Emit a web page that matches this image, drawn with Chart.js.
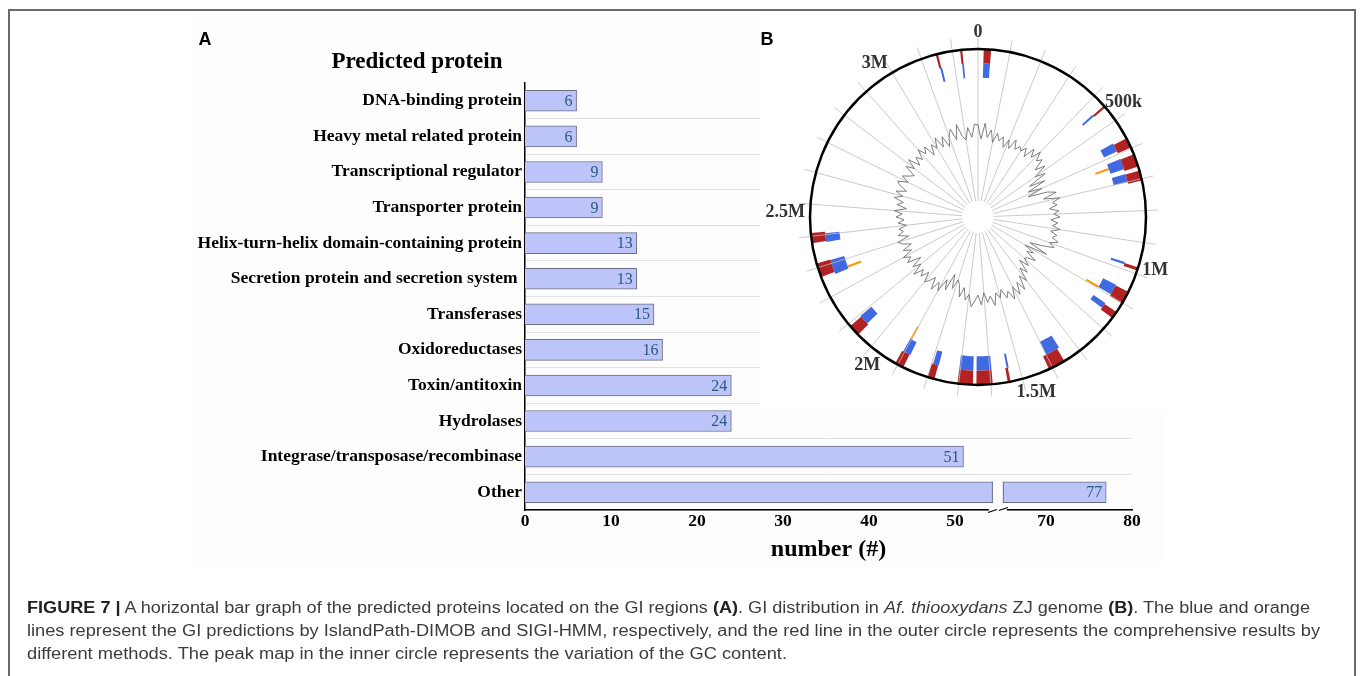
<!DOCTYPE html>
<html><head><meta charset="utf-8">
<script src="https://cdn.jsdelivr.net/npm/chart.js@4.4.1/dist/chart.umd.min.js"></script>
<style>
html,body{margin:0;padding:0;background:#fff;width:1360px;height:676px;overflow:hidden;position:relative;}
#frame{position:absolute;left:8px;top:9px;width:1348px;height:720px;border:2px solid #6a6a6a;box-sizing:border-box;}
#bgA{position:absolute;left:192px;top:20px;width:973px;height:542px;background:#fdfdfd;}
#cA{position:absolute;left:0;top:0;}
#bgB{position:absolute;left:760px;top:20px;width:405px;height:390px;background:#fff;}
#cRing{position:absolute;left:810px;top:49px;}
#cGC{position:absolute;left:758px;top:-3px;}
.panel{position:absolute;font:bold 18px "Liberation Sans",Arial,sans-serif;color:#000;transform:translate(-50%,-50%);}
#titleA{position:absolute;left:417px;top:61px;transform:translate(-50%,-50%);font:bold 23px "Liberation Serif";white-space:nowrap;color:#000;}
.cap{position:absolute;left:27px;font:16px "Liberation Sans",Arial,sans-serif;color:#3c3c3c;white-space:nowrap;transform-origin:0 50%;line-height:20px;}
.cap b{color:#222;}
</style></head>
<body>
<div id="frame"></div>
<div id="bgA"></div>
<canvas id="cA" width="1360" height="676"></canvas>
<div id="bgB"></div>
<canvas id="cRing" width="336" height="336"></canvas>
<canvas id="cGC" width="440" height="440"></canvas>
<div class="panel" style="left:205px;top:39px;">A</div>
<div class="panel" style="left:767px;top:39px;">B</div>
<div id="titleA">Predicted protein</div>
<div class="cap" id="cap1" style="top:598px;"><b>FIGURE 7 |</b> A horizontal bar graph of the predicted proteins located on the GI regions <b>(A)</b>. GI distribution in <i>Af. thiooxydans</i> ZJ genome <b>(B)</b>. The blue and orange</div>
<div class="cap" id="cap2" style="top:621px;">lines represent the GI predictions by IslandPath-DIMOB and SIGI-HMM, respectively, and the red line in the outer circle represents the comprehensive results by</div>
<div class="cap" id="cap3" style="top:644px;">different methods. The peak map in the inner circle represents the variation of the GC content.</div>
<script>
// ---------- Panel A data ----------
const categories = ['DNA-binding protein','Heavy metal related protein','Transcriptional regulator','Transporter protein','Helix-turn-helix domain-containing protein','Secretion protein and secretion system ','Transferases','Oxidoreductases','Toxin/antitoxin','Hydrolases','Integrase/transposase/recombinase','Other'];
const counts = [6,6,9,9,13,13,15,16,24,24,51,77];
const xTickValues = [0,10,20,30,40,50,70,80];
const axisBreak = [55, 64.4];

// ---------- Panel B data ----------
const genomeLength = 3280; // kb
const gcWindow = 20;       // kb
const gcContent = [
59.2,57.8,59.4,58.0,58.8,57.6,58.6,57.9,58.4,57.4,
58.3,57.5,58.6,57.7,58.2,57.9,58.4,57.6,58.8,58.0,
59.0,58.1,58.6,57.4,58.4,57.0,58.0,56.0,57.6,55.6,
57.0,55.4,57.4,58.2,56.8,58.4,57.6,58.0,57.2,58.1,
57.6,58.2,57.3,58.0,57.5,58.3,57.4,58.1,57.7,58.4,
57.6,58.2,57.0,55.8,57.8,55.5,56.6,56.0,57.2,56.4,
56.2,57.0,56.0,57.4,56.6,58.0,57.2,58.6,57.6,58.8,
57.8,59.0,58.0,58.6,57.6,58.4,57.8,59.0,58.0,58.6,
57.6,58.8,57.8,58.4,59.0,57.8,58.4,57.2,58.2,57.0,
56.6,57.6,56.2,58.0,57.0,58.4,57.6,58.6,57.4,58.0,
58.4,57.4,58.2,57.6,58.6,57.4,58.2,57.0,58.4,57.8,
58.5,57.4,58.2,57.2,58.0,58.4,57.2,58.2,57.6,58.0,
57.2,58.0,57.4,58.2,57.6,58.4,57.2,58.2,57.6,58.6,
57.8,58.6,57.6,58.4,58.8,57.8,58.6,58.0,57.6,58.8,
58.0,59.0,57.8,58.6,58.0,59.0,58.2,58.8,57.6,58.6,
58.0,59.0,57.8,58.8,57.6,58.6,59.2,58.0,59.5,58.2,
57.8,59.0,58.0,59.3];
const ringTickValues = [0,500,1000,1500,2000,2500,3000];
const ringTickLabels = ['0','500k','1M','1.5M','2M','2.5M','3M'];
const islandsCombined = [[18,41],[442,449],[565,597],[620,661],[674,706],[979,989],[1061,1102],[1134,1157],[1358,1412],[1538,1547],[1594,1645],[1656,1704],[1777,1799],[1881,1909],[2055,2091],[2269,2314],[2378,2410],[3147,3154],[3224,3231]];
const islandsDimob = [[18,41],[440,447],[560,590],[618,655],[672,700],[975,983],[1058,1095],[1130,1150],[1350,1400],[1535,1542],[1594,1645],[1656,1704],[1775,1795],[1878,1905],[2060,2095],[2262,2312],[2375,2405],[3150,3157],[3226,3232]];
const islandsSigi = [[632,640],[1090,1098],[1898,1905],[2266,2274]];

// ---------- Panel A chart ----------
const gapSize = axisBreak[1] - axisBreak[0];
const toDisplay = v => v <= axisBreak[0] ? v : v - gapSize;
const FONT = 'Liberation Serif';
const BG_A = '#fdfdfd';

const valueLabels = {
  id: 'valueLabels',
  afterDatasetsDraw(chart) {
    const ctx = chart.ctx, meta = chart.getDatasetMeta(0), xs = chart.scales.x;
    ctx.save();
    const bx = xs.getPixelForValue(axisBreak[0]);
    meta.data.forEach((bar, i) => {
      if (counts[i] > axisBreak[1]) {
        const h = bar.height;
        ctx.fillStyle = BG_A;
        ctx.fillRect(bx - 5, bar.y - h / 2 - 1, 10, h + 2);
        ctx.strokeStyle = '#6E6E86'; ctx.lineWidth = 1;
        ctx.beginPath();
        ctx.moveTo(bx - 5.5, bar.y - h / 2); ctx.lineTo(bx - 5.5, bar.y + h / 2);
        ctx.moveTo(bx + 5.5, bar.y - h / 2); ctx.lineTo(bx + 5.5, bar.y + h / 2);
        ctx.stroke();
      }
    });
    ctx.font = '16px "' + FONT + '"';
    ctx.fillStyle = '#2A5A7C';
    ctx.textAlign = 'right';
    ctx.textBaseline = 'middle';
    meta.data.forEach((bar, i) => ctx.fillText(String(counts[i]), bar.x - 4, bar.y + 1));
    ctx.restore();
  },
  afterDraw(chart) {
    const ctx = chart.ctx, xs = chart.scales.x;
    const bx = xs.getPixelForValue(axisBreak[0]);
    const y = chart.chartArea.bottom;
    ctx.save();
    ctx.fillStyle = BG_A;
    ctx.fillRect(bx - 9, y - 3, 18, 6);
    ctx.strokeStyle = '#000'; ctx.lineWidth = 1.2;
    ctx.beginPath();
    ctx.moveTo(bx - 10, y + 2.5); ctx.lineTo(bx - 1, y - 0.5);
    ctx.moveTo(bx + 1, y + 0.5); ctx.lineTo(bx + 10, y - 2.5);
    ctx.stroke();
    ctx.restore();
  }
};

new Chart(document.getElementById('cA'), {
  type: 'bar',
  data: {
    labels: categories,
    datasets: [{
      data: counts.map(toDisplay),
      backgroundColor: '#BCC4F9',
      borderColor: '#6E6E86',
      borderWidth: 1,
      barThickness: 21
    }]
  },
  options: {
    indexAxis: 'y',
    responsive: false,
    animation: false,
    events: [],
    layout: { padding: { left: 185, top: 83, right: 228, bottom: 108 } },
    plugins: { legend: { display: false }, tooltip: { enabled: false } },
    scales: {
      x: {
        type: 'linear', min: 0, max: 70.6,
        afterBuildTicks: s => { s.ticks = xTickValues.map(v => ({ value: toDisplay(v) })); },
        afterFit: s => { s.height = 58; },
        grid: { display: false, drawTicks: false },
        border: { display: true, color: '#000', width: 1.5 },
        ticks: { padding: 1, color: '#000', autoSkip: false, maxRotation: 0,
          font: { family: FONT, size: 17.5, weight: 'bold' },
          callback: (v, i) => String(xTickValues[i]) },
        title: { display: true, text: 'number (#)', color: '#000',
          font: { family: FONT, size: 24, weight: 'bold' }, padding: { top: 0, bottom: 4 } }
      },
      y: {
        afterFit: s => { s.width = 340; },
        grid: { color: c => (c.index === 0 || c.index >= categories.length) ? 'rgba(0,0,0,0)' : '#e2e2e2', drawTicks: false, lineWidth: 1 },
        border: { display: true, color: '#000', width: 1.5 },
        ticks: { padding: 3, color: '#000', autoSkip: false, font: { family: FONT, size: 17.5, weight: 'bold' } }
      }
    }
  },
  plugins: [valueLabels]
});

// ---------- Panel B: GI rings (doughnut) ----------
function ringData(islands, color) {
  const data = [], colors = [];
  let pos = 0;
  islands.slice().sort((a, b) => a[0] - b[0]).forEach(([s, e]) => {
    data.push(s - pos); colors.push('rgba(0,0,0,0)');
    data.push(e - s); colors.push(color);
    pos = e;
  });
  data.push(genomeLength - pos); colors.push('rgba(0,0,0,0)');
  return { data, backgroundColor: colors, borderWidth: 0, hoverOffset: 0, offset: 0 };
}
const ringChart = new Chart(document.getElementById('cRing'), {
  type: 'doughnut',
  data: { datasets: [
    ringData(islandsCombined, '#B22222'),
    ringData(islandsDimob, '#4169E1'),
    ringData(islandsSigi, '#FF9500')
  ] },
  options: {
    responsive: false, animation: false, events: [],
    cutout: 125, rotation: 0, circumference: 360,
    layout: { padding: 0 },
    plugins: { legend: { display: false }, tooltip: { enabled: false } }
  }
});

// ---------- Panel B: GC content (radar) ----------
const gcDecor = {
  id: 'gcDecor',
  afterDraw(chart) {
    const s = chart.scales.r, ctx = chart.ctx;
    const cx = s.xCenter, cy = s.yCenter;
    const outer = ringChart.getDatasetMeta(0).controller.outerRadius || 168;
    ctx.save();
    ctx.fillStyle = '#fff';
    ctx.beginPath(); ctx.arc(cx, cy, 16, 0, Math.PI * 2); ctx.fill();
    ctx.strokeStyle = '#000'; ctx.lineWidth = 2.5;
    ctx.beginPath(); ctx.arc(cx, cy, outer, 0, Math.PI * 2); ctx.stroke();
    ctx.font = 'bold 18px "' + FONT + '"';
    ctx.fillStyle = '#333';
    ctx.textAlign = 'center'; ctx.textBaseline = 'middle';
    ringTickValues.forEach((v, i) => {
      const shift = v === 0 ? 0 : 3 * Math.PI / 180;
      const a = v / genomeLength * Math.PI * 2 - Math.PI / 2 - shift;
      const r = 185;
      const w = ctx.measureText(ringTickLabels[i]).width;
      const push = Math.cos(a) < 0 ? Math.cos(a) * Math.max(0, w / 2 - 12) : 0;
      ctx.fillText(ringTickLabels[i], cx + r * Math.cos(a) + push, cy + r * Math.sin(a));
    });
    ctx.restore();
  }
};
new Chart(document.getElementById('cGC'), {
  type: 'radar',
  data: {
    labels: gcContent.map((_, i) => (i * gcWindow) + ' kb'),
    datasets: [{ data: gcContent, borderColor: '#707070', borderWidth: 0.9, pointRadius: 0, fill: false, tension: 0 }]
  },
  options: {
    responsive: false, animation: false, events: [],
    layout: { padding: 40 },
    plugins: { legend: { display: false }, tooltip: { enabled: false } },
    scales: { r: {
      min: 50, max: 68,
      ticks: { display: false },
      grid: { display: false },
      pointLabels: { display: false },
      angleLines: { display: true, lineWidth: 0.8,
        color: c => (c.index % 5 === 0) ? '#bdbdbd' : 'rgba(0,0,0,0)' }
    } }
  },
  plugins: [gcDecor]
});

// ---------- caption fitting ----------
[['cap1', 1283], ['cap2', 1293], ['cap3', 760]].forEach(([id, w]) => {
  const el = document.getElementById(id);
  const cw = el.getBoundingClientRect().width;
  el.style.transform = 'scaleX(' + (w / cw) + ')';
});
</script>
</body></html>
